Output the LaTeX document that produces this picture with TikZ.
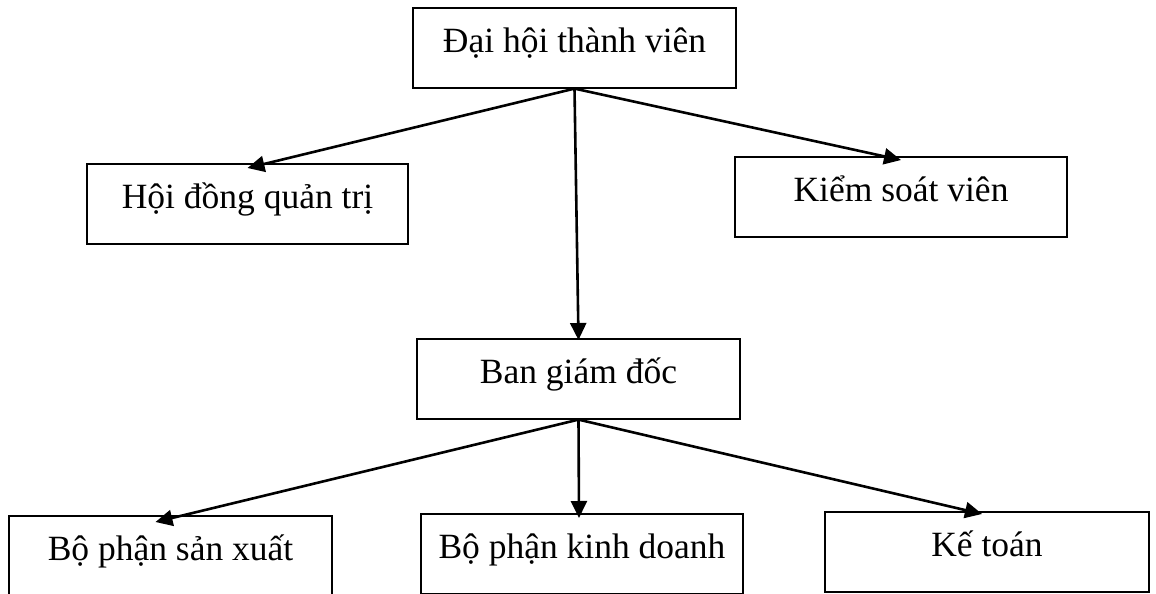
\documentclass[tikz,border=0pt]{standalone}
\usepackage{fontspec}
\setmainfont{Liberation Serif}
\usetikzlibrary{arrows.meta}

\begin{document}
\begin{tikzpicture}[x=1pt,y=-1pt,
    unit/.style={draw, line width=1.6pt, inner sep=0pt, anchor=north,
      text height=44.5pt, text depth=35.5pt, font=\fontsize{35.5}{42}\selectfont},
    link/.style={line width=2.6pt, -{Triangle[length=17pt,width=16pt]}}]
        \useasboundingbox (0,0) rectangle (1156,594);
        \node[unit, minimum width=323pt] (dhtv) at (574.5,7) {Đại hội thành viên};
        \node[unit, minimum width=321pt] (hdqt) at (247.5,163) {Hội đồng quản trị};
        \node[unit, minimum width=332pt] (ksv) at (901,156) {Kiểm soát viên};
        \node[unit, minimum width=323pt] (bgd) at (578.5,338) {Ban giám đốc};
        \node[unit, minimum width=323pt] (bpsx) at (170.5,515) {Bộ phận sản xuất};
        \node[unit, minimum width=322pt] (bpkd) at (582,513) {Bộ phận kinh doanh};
        \node[unit, minimum width=324pt] (kt) at (987,511) {Kế toán};
        % cap tren
        \draw[link] (dhtv.south) -- ([yshift=-5pt]hdqt.north);
        \draw[link] (dhtv.south) -- ([yshift=-4pt]ksv.north);
        \draw[link] (dhtv.south) -- ([yshift=-2pt]bgd.north);
        % cap duoi
        \draw[link] (bgd.south) -- ([shift={(-15pt,-7pt)}]bpsx.north);
        \draw[link] (bgd.south) -- ([shift={(-3pt,-5pt)}]bpkd.north);
        \draw[link] (bgd.south) -- ([shift={(-5pt,-3pt)}]kt.north);
\end{tikzpicture}
\end{document}
